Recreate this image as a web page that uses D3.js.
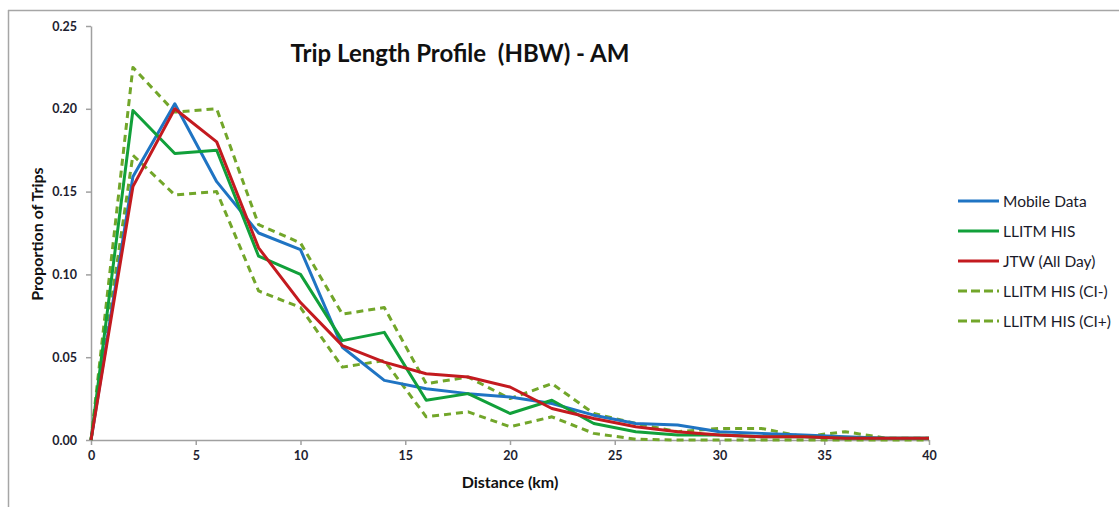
<!DOCTYPE html>
<html><head><meta charset="utf-8">
<script src="https://cdn.jsdelivr.net/npm/d3@7/dist/d3.min.js"></script>
<style>
html,body{margin:0;padding:0;background:#fff;}
svg{display:block;font-family:Lato,"Open Sans",sans-serif;}
</style></head>
<body>
<svg id="c" width="1119" height="507"></svg>
<script>
const distance = [0,2,4,6,8,10,12,14,16,18,20,22,24,26,28,30,32,34,36,38,40];
const mobileData = [0,0.159,0.203,0.156,0.125,0.115,0.056,0.036,0.031,0.028,0.026,0.022,0.015,0.010,0.009,0.005,0.004,0.003,0.002,0.001,0.001];
const llitmHIS   = [0,0.199,0.173,0.175,0.111,0.100,0.060,0.065,0.024,0.028,0.016,0.024,0.010,0.005,0.003,0.003,0.002,0.002,0.001,0.001,0.001];
const jtwAllDay  = [0,0.153,0.200,0.180,0.116,0.083,0.057,0.047,0.040,0.038,0.032,0.019,0.013,0.008,0.005,0.003,0.002,0.002,0.001,0.001,0.001];
const llitmCIminus = [0,0.172,0.148,0.150,0.090,0.080,0.044,0.048,0.014,0.017,0.008,0.014,0.004,0.0005,0,0,0,0,0,0,0];
const llitmCIplus  = [0,0.225,0.198,0.200,0.130,0.119,0.076,0.080,0.034,0.038,0.025,0.034,0.016,0.010,0.005,0.007,0.007,0.002,0.005,0.001,0.001];
const xTicks = [0,5,10,15,20,25,30,35,40];
const yTicks = [0,0.05,0.10,0.15,0.20,0.25];

const series = [
  {name:"Mobile Data", values:mobileData, color:"#1f74c3", width:3, dash:null},
  {name:"LLITM HIS", values:llitmHIS, color:"#11a03a", width:3, dash:null},
  {name:"JTW (All Day)", values:jtwAllDay, color:"#c31a1f", width:3, dash:null},
  {name:"LLITM HIS (CI-)", values:llitmCIminus, color:"#72a62a", width:3, dash:"7,5"},
  {name:"LLITM HIS (CI+)", values:llitmCIplus, color:"#72a62a", width:3, dash:"7,5"}
];

const svg = d3.select("#c");
// frame
svg.append("line").attr("x1",8).attr("x2",1119).attr("y1",10.5).attr("y2",10.5).attr("stroke","#a6a6a6").attr("stroke-width",1.5);
svg.append("line").attr("x1",8.5).attr("x2",8.5).attr("y1",10).attr("y2",507).attr("stroke","#a6a6a6").attr("stroke-width",1.5);

const x = d3.scaleLinear().domain([0,40]).range([91,929]);
const y = d3.scaleLinear().domain([0,0.25]).range([440,26]);

const gx = svg.append("g").attr("transform","translate(0,440)")
  .call(d3.axisBottom(x).tickValues(xTicks).tickSize(5).tickSizeOuter(0).tickPadding(6).tickFormat(d3.format("d")));
const gy = svg.append("g").attr("transform","translate(91,0)")
  .call(d3.axisLeft(y).tickValues(yTicks).tickSize(5).tickSizeOuter(0).tickPadding(9).tickFormat(d3.format(".2f")));
[gx,gy].forEach(g=>{
  g.select(".domain").attr("stroke","#a0a0a0").attr("stroke-width",1.5);
  g.selectAll(".tick line").attr("stroke","#a0a0a0").attr("stroke-width",1.5);
  g.selectAll(".tick text").attr("fill","#1e1e30").attr("font-size",12.5).attr("font-weight","bold").attr("font-family","Lato, sans-serif");
});

const line = d3.line().x((d,i)=>x(distance[i])).y(d=>y(d));
const order = [4,3,0,1,2];
order.forEach(k=>{
  const s = series[k];
  svg.append("path").datum(s.values).attr("d",line).attr("fill","none")
    .attr("stroke",s.color).attr("stroke-width",s.width)
    .attr("stroke-dasharray",s.dash).attr("stroke-linejoin","round");
});

// title
svg.append("text").attr("x",460).attr("y",62).attr("text-anchor","middle")
  .attr("font-size",24).attr("font-weight","bold").attr("fill","#111")
  .attr("font-family","Lato, sans-serif").attr("xml:space","preserve")
  .text("Trip Length Profile  (HBW) - AM");

// axis labels
svg.append("text").attr("x",510).attr("y",488).attr("text-anchor","middle")
  .attr("font-size",16).attr("font-weight","bold").attr("fill","#111").text("Distance (km)");
svg.append("text").attr("transform","translate(43,234) rotate(-90)").attr("text-anchor","middle")
  .attr("font-size",16).attr("font-weight","bold").attr("fill","#111").text("Proportion of Trips");

// legend
const lg = svg.append("g");
series.forEach((s,i)=>{
  const yy = 201 + i*30;
  lg.append("line").attr("x1",958).attr("x2",999).attr("y1",yy).attr("y2",yy)
    .attr("stroke",s.color).attr("stroke-width",s.width).attr("stroke-dasharray",s.dash ? "9,4" : null);
  lg.append("text").attr("x",1003).attr("y",yy+5.5).attr("font-size",15.5).attr("fill","#1a1a2a").text(s.name);
});
</script>
</body></html>
